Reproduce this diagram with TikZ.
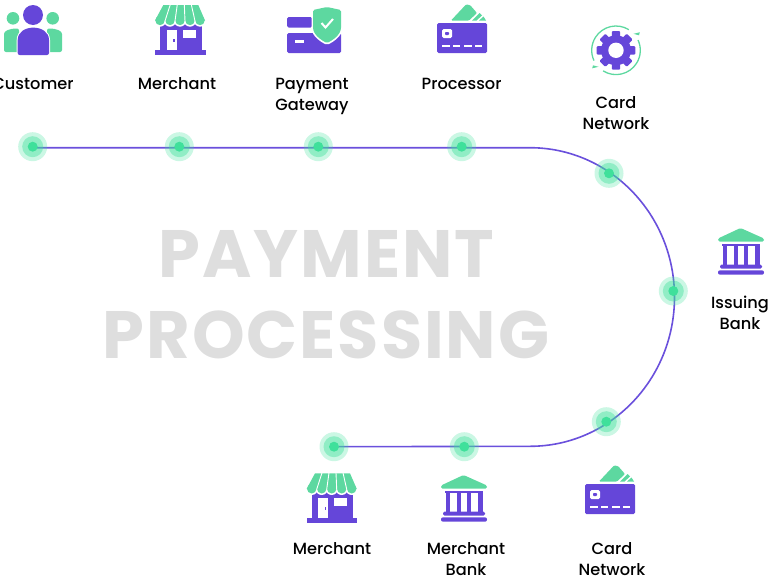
\documentclass[tikz,border=0pt]{standalone}
\usepackage{fontspec}
\setmainfont{Poppins}
\newfontfamily\labfont{Poppins Medium}
\newfontfamily\ttlfont[LetterSpace=2.9]{Poppins Bold}
\usetikzlibrary{calc}
\definecolor{pur}{HTML}{6546D9}
\definecolor{grn}{HTML}{5DD8A0}
\definecolor{dotc}{HTML}{3FE09B}
\definecolor{ttl}{HTML}{DEDEDE}
\definecolor{linec}{HTML}{6A50DC}
\pgfdeclarelayer{bg}
\pgfsetlayers{bg,main}
\tikzset{
  x=1pt,y=-1pt,
  lab/.style={anchor=north,align=center,inner sep=0pt,font=\labfont\fontsize{16.2}{21}\selectfont,text=black,
    execute at begin node={\rule{0pt}{12.5pt}}},
  ttlnode/.style={anchor=base,inner sep=0pt,font=\ttlfont\fontsize{67}{70}\selectfont,text=ttl},
  dotnode/.style={circle,inner sep=0pt,minimum size=29pt,fill=dotc,fill opacity=.27,
    path picture={
      \fill[dotc,fill opacity=.42] (path picture bounding box.center) circle[radius=10.5pt];
      \fill[dotc,fill opacity=1] (path picture bounding box.center) circle[radius=5pt];
    }},
  shop/.pic={
    \fill[pur] (5,18) rectangle (46.7,45.5);
    \fill[white] (11.7,25) rectangle (21.7,46);
    \fill[pur] (18.3,33.5) rectangle (19.7,36.5);
    \fill[white] (27.7,25) rectangle (40.7,32.7);
    \fill[pur] (0,45) rectangle (50.5,50);
    \foreach \c in {5,15,25,35,45}{\fill[white] (\c,15.5) circle[radius=6.2pt];}
    \foreach \c in {5,15,25,35,45}{\fill[grn] (\c,15.5) circle[radius=4.7pt];}
    \fill[grn] (8.3,0) -- (43.3,0) -- (50,15.5) -- (0,15.5) -- cycle;
    \draw[white,line width=.9pt] (15.3,-.5) -- (10,16) (22.3,-.5) -- (20,16) (29.3,-.5) -- (30,16) (36.3,-.5) -- (40,16);
  },
  bank/.pic={
    \fill[pur] (-18.5,15.7) rectangle (19.5,17.7);
    \foreach \c in {-17.5,-6.8,3.2,14.8}{\fill[pur] (\c,16) rectangle ++(4.3,21.5);}
    \fill[pur,rounded corners=1.5pt] (-20.5,36.7) rectangle (21.5,40.7);
    \fill[pur,rounded corners=2pt] (-22.5,42.3) rectangle (23.5,46.7);
    \fill[grn,rounded corners=1.5pt] (0,0) -- (23.5,10.5) -- (23.5,13.5) -- (-22.5,13.5) -- (-22.5,10.5) -- cycle;
  },
  wallet/.pic={
    \fill[grn,rounded corners=1pt] (14,-2.5) -- (29,-18.5) -- (33,-18) -- (40,-10) -- (32,-2.5) -- cycle;
    \fill[grn] (35,-2.5) -- (42.5,-10) -- (45,-7.5) -- (39.5,-2.5) -- cycle;
    \fill[grn] (42,-2.5) -- (46.5,-6.5) -- (49,-2.5) -- cycle;
    \fill[pur,rounded corners=1.5pt] (0,0) rectangle (50,30);
    \fill[white,rounded corners=1.5pt] (5,6) rectangle (15,15);
    \fill[pur,rounded corners=.8pt] (8,9) rectangle (12,12);
    \foreach \c in {5,15.7,27,37.7}{\fill[white] (\c,21.8) rectangle ++(7.6,1.7);}
  }
}
\begin{document}
\begin{tikzpicture}
\useasboundingbox (0,0) rectangle (768,584);
% title
\node[ttlnode] (t1) at (326.5,277.5) {PAYMENT};
\node[ttlnode] (t2) at (326,358.5) {PROCESSING};
% dots
\node[dotnode] (d1) at (32.7,146.7) {};
\node[dotnode] (d2) at (179.3,146.7) {};
\node[dotnode] (d3) at (318.3,146.7) {};
\node[dotnode] (d4) at (461.7,146.7) {};
\node[dotnode] (d5) at (609,173.3) {};
\node[dotnode] (d6) at (673.3,291) {};
\node[dotnode] (d7) at (606.3,421.7) {};
\node[dotnode] (d8) at (464.3,446.7) {};
\node[dotnode] (d9) at (334,446.7) {};
\coordinate (ta) at (530,147.7);
\begin{pgfonlayer}{bg}
\draw[linec,line width=1.6pt] (d1.center |- ta) -- (ta) arc[start angle=90,end angle=-90,x radius=144.5pt,y radius=149.3pt] -- (d9.center);
\end{pgfonlayer}
% customer icon
\fill[grn] (13,18.3) circle[radius=6.3pt];
\fill[grn] (52.7,18.3) circle[radius=6.3pt];
\fill[grn,rounded corners=2pt] (4,52) -- (4,36) .. controls (4,31) and (9,28.5) .. (19,28.5) -- (19,52) -- cycle;
\fill[grn,rounded corners=2pt] (62,52) -- (62,36) .. controls (62,31) and (57,28.5) .. (47,28.5) -- (47,52) -- cycle;
\fill[pur] (33,15) circle[radius=10pt];
\draw[white,line width=2pt,fill=pur,rounded corners=2pt] (17.7,55) -- (17.7,42) .. controls (17.7,23.5) and (49,23.5) .. (49,42) -- (49,55) -- cycle;
\fill[pur,rounded corners=2pt] (17.7,55) -- (17.7,42) .. controls (17.7,23.5) and (49,23.5) .. (49,42) -- (49,55) -- cycle;
% merchant icons
\pic at (155,5) {shop};
\pic at (306.7,473.3) {shop};
% gateway icon
\fill[pur,rounded corners=1.5pt] (287,17) rectangle (312,27.5);
\fill[pur,rounded corners=1.5pt] (287,33) rectangle (341,53);
\fill[white] (295,40) rectangle (304,43);
\fill[white,rounded corners=2pt] (311.5,9) -- (327,5.5) -- (342.5,9) -- (342.5,26) .. controls (342.5,36) and (333,42) .. (327,45) .. controls (321,42) and (311.5,36) .. (311.5,26) -- cycle;
\fill[grn,rounded corners=1.5pt] (313,10) -- (327,7) -- (341,10) -- (341,26) .. controls (341,35) and (332,40.5) .. (327,43) .. controls (322,40.5) and (313,35) .. (313,26) -- cycle;
\draw[white,line width=2pt] (321.5,23) -- (325.5,27.5) -- (333,19);
% wallets
\pic at (437,23) {wallet};
\pic at (585,484) {wallet};
% gear
\begin{scope}[shift={(616,50.3)}]
  \draw[grn,line width=1.3pt] (58:24.3pt) arc[start angle=58,end angle=205,radius=24.3pt];
  \draw[grn,line width=1.3pt] (238:24.3pt) arc[start angle=238,end angle=385,radius=24.3pt];
  \fill[grn] (17.5,-16.5) -- (23.8,-18) -- (23,-15) -- cycle;
  \fill[grn] (-17.5,16.5) -- (-23.8,18) -- (-23,15) -- cycle;
  \foreach \a in {0,45,...,315}{
    \fill[pur,rotate=\a,rounded corners=1pt] (-4.2,-19.3) rectangle (4.2,0);
  }
  \fill[pur] (0,0) circle[radius=15pt];
  \fill[white] (0,0) circle[radius=7.7pt];
\end{scope}
% banks
\pic at (740.5,228) {bank};
\pic at (463.5,475) {bank};
% labels
\node[lab] (l1) at (33,76.5) {Customer};
\node[lab] (l2) at (177,76.5) {Merchant};
\node[lab] (l3) at (312,78) {Payment\\Gateway};
\node[lab] (l4) at (461.6,76.5) {Processor};
\node[lab] (l5) at (616,96) {Card\\Network};
\node[lab] (l6) at (740,295.5) {Issuing\\Bank};
\node[lab] (l7) at (332,541.5) {Merchant};
\node[lab] (l8) at (466,542.5) {Merchant\\Bank};
\node[lab] (l9) at (612,542.5) {Card\\Network};
\end{tikzpicture}
\end{document}
